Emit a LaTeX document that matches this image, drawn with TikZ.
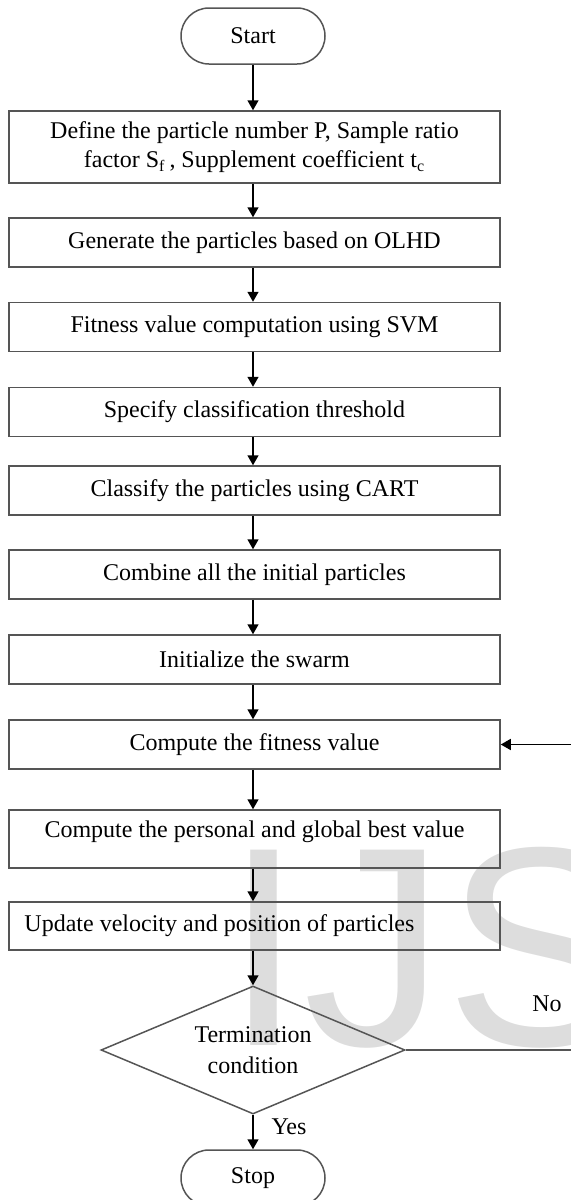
\documentclass[tikz,border=0pt]{standalone}
\usepackage{fontspec}
\setmainfont{Liberation Serif}
\newfontfamily\wmfont{Liberation Sans}
\usetikzlibrary{arrows.meta,shapes.geometric}
\definecolor{boxgray}{RGB}{85,85,85}
\definecolor{wmgray}{RGB}{221,221,221}
\begin{document}
\begin{tikzpicture}[x=0.5pt,y=-0.5pt,
  font=\fontsize{12pt}{14.5pt}\selectfont,
  box/.style={draw=boxgray, line width=0.75pt, minimum width=245.5pt, minimum height=24.5pt, inner sep=0pt, align=center},
  term/.style={draw=boxgray, line width=0.75pt, rounded corners=14pt, minimum width=72pt, minimum height=28pt, inner sep=0pt},
  decision/.style={draw=boxgray, line width=0.75pt, shape=diamond, aspect=2.375, minimum width=152pt, minimum height=64pt, inner sep=0pt, align=center, font=\fontsize{12pt}{15.5pt}\selectfont},
  arr/.style={draw=black, line width=0.75pt, -{Triangle[width=5.5pt,length=5pt]}},
  loopline/.style={draw=boxgray, line width=0.75pt},
  lbl/.style={inner sep=0pt}
]
\useasboundingbox (0,0) rectangle (571,1200);
% watermark
\node[anchor=base west, inner sep=0pt, text=wmgray, font=\wmfont\fontsize{142pt}{142pt}\selectfont] (wm) at (224,1045) {IJS};

\node[term] (start) at (253,36) {Start};
\node[box, minimum height=36pt] (b1) at (254.5,147) {Define the particle number P, Sample ratio\\factor S\textsubscript{f}\,, Supplement coefficient t\textsubscript{c}};
\node[box] (b2) at (254.5,242.5) {Generate the particles based on OLHD};
\node[box] (b3) at (254.5,327) {Fitness value computation using SVM};
\node[box] (b4) at (254.5,412) {Specify classification threshold};
\node[box] (b5) at (254.5,490.5) {Classify the particles using CART};
\node[box] (b6) at (254.5,574.5) {Combine all the initial particles};
\node[box] (b7) at (254.5,659.5) {Initialize the swarm};
\node[box] (b8) at (254.5,744.5) {Compute the fitness value};
\node[box, minimum height=29pt, text depth=9.6pt] (b9) at (254.5,839) {Compute the personal and global best value};
\node[box, minimum height=24pt] (b10) at (254.5,926) {\makebox[230pt][l]{Update velocity and position of particles}};
\node[decision] (dec) at (253,1050) {Termination\\condition};
\node[term] (stop) at (253,1178) {Stop};

\node[lbl] (yes) at (289,1127) {Yes};
\node[lbl] (no) at (547,1004) {No};
\coordinate (c1) at (573,1050);
\coordinate (c2) at (573,744.5);

\draw[arr] (start.south) -- (start.south |- b1.north);
\draw[arr] (start.south |- b1.south) -- (start.south |- b2.north);
\draw[arr] (start.south |- b2.south) -- (start.south |- b3.north);
\draw[arr] (start.south |- b3.south) -- (start.south |- b4.north);
\draw[arr] (start.south |- b4.south) -- (start.south |- b5.north);
\draw[arr] (start.south |- b5.south) -- (start.south |- b6.north);
\draw[arr] (start.south |- b6.south) -- (start.south |- b7.north);
\draw[arr] (start.south |- b7.south) -- (start.south |- b8.north);
\draw[arr] (start.south |- b8.south) -- (start.south |- b9.north);
\draw[arr] (start.south |- b9.south) -- (start.south |- b10.north);
\draw[arr] (start.south |- b10.south) -- (dec.north);
\draw[arr] (dec.south) -- (stop.north);
\draw[loopline] (dec.east) -- (c1) -- (c2);
\draw[arr] (c2) -- (b8.east);
\end{tikzpicture}
\end{document}
